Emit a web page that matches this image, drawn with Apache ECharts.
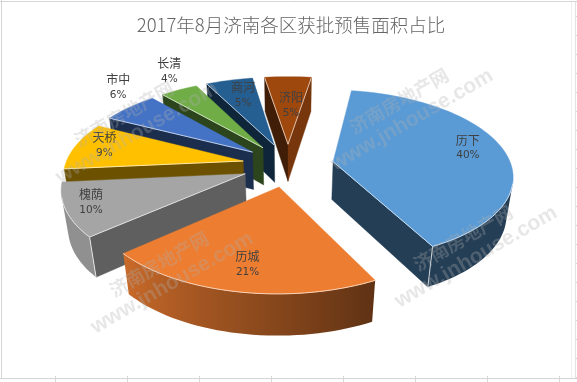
<!DOCTYPE html>
<html><head><meta charset="utf-8">
<style>html,body{margin:0;padding:0;background:#fff}#c{width:577px;height:382px}</style>
<script src="https://cdn.jsdelivr.net/npm/echarts@6/dist/echarts.min.js"></script>
</head><body><div id="c"></div>
<script>
const titleText = '2017年8月济南各区获批预售面积占比';
const categories = ['历下','历城','槐荫','天桥','市中','长清','商河','济阳'];
const values = [40,21,10,9,6,4,5,5];
const colors = ['#5b9bd5','#ed7d31','#a5a5a5','#ffc000','#4472c4','#70ad47','#255e91','#9e480e'];
// label placement on the disc: radial distance and angular nudge
const labelRho = [0.808,0.77,0.86,0.84,1.30,1.314,0.744,0.542];
const labelDelta = [-3.6,0,2.1,2.9,8,4.2,1.7,2];

// 3D view parameters
const firstAngle = 9, explode = 0.258;
const cx = 288, cy = 165, F = 178, FG = 83.5, P = 0.15, H = 39, Q = 0.03;
const rad = d => d * Math.PI / 180;
function project(X, Y, z) {
  const w = 1 - P * Y + Q * z;
  return [cx + F * X / w, cy + (FG * Y + H * z) / w];
}
function shade(hex, f) {
  const n = parseInt(hex.slice(1), 16);
  const c = [(n >> 16) & 255, (n >> 8) & 255, n & 255].map(v => Math.round(v * f));
  return 'rgb(' + c.join(',') + ')';
}
function tint(hex, f) {
  const n = parseInt(hex.slice(1), 16);
  const c = [(n >> 16) & 255, (n >> 8) & 255, n & 255].map(v => Math.round(v + (255 - v) * f));
  return 'rgb(' + c.join(',') + ')';
}
function area(p) {
  let s = 0;
  for (let i = 0; i < p.length; i++) {
    const a = p[i], b = p[(i + 1) % p.length];
    s += a[0] * b[1] - b[0] * a[1];
  }
  return s / 2;
}
function wallShade(n) {
  n = ((n % 360) + 360) % 360;
  if (n <= 153) return 0.4;
  if (n <= 228) return 0.4 + 0.45 * (n - 153) / 75;
  return 0.87;
}
function cutShade(n) {
  n = ((n % 360) + 360) % 360;
  if (n <= 99) return 0.75;
  if (n < 175) return 0.75 - 0.33 * (n - 99) / 76;
  return 0.4;
}
const total = values.reduce((a, b) => a + b, 0);
const starts = [];
values.reduce((acc, v, i) => { starts[i] = acc; return acc + v / total * 360; }, firstAngle);
const mids = values.map((v, i) => starts[i] + v / total * 180);
const depthOrder = values.map((v, i) => i).sort((a, b) => Math.cos(rad(mids[b])) - Math.cos(rad(mids[a])));

function renderSlice(params, api) {
  const i = api.value(0), v = api.value(1);
  const a0 = starts[i], sweep = v / total * 360, a1 = a0 + sweep, m = a0 + sweep / 2;
  const rank = depthOrder.indexOf(i) * 100;
  const color = colors[i];
  const rim = tint(color, 0.65);
  const ax = explode * Math.sin(rad(m)), ay = -explode * Math.cos(rad(m));
  const arc = [];
  const steps = Math.max(4, Math.ceil(sweep / 2));
  for (let k = 0; k <= steps; k++) {
    const t = a0 + sweep * k / steps;
    arc.push([ax + Math.sin(rad(t)), ay - Math.cos(rad(t)), t]);
  }
  const children = [];
  const poly = (pts, fill, z) => children.push({
    type: 'polygon', z2: rank + z, shape: { points: pts },
    style: { fill: fill, stroke: typeof fill === 'string' ? fill : null, lineWidth: typeof fill === 'string' ? 0.4 : 0 }
  });
  const segLine = (a, b, stroke, w, z) => children.push({
    type: 'line', z2: rank + z, shape: { x1: a[0], y1: a[1], x2: b[0], y2: b[1] },
    style: { stroke: stroke, lineWidth: w }
  });
  const T = p => project(p[0], p[1], 0), B = p => project(p[0], p[1], 1);
  const face = (A, Z) => [T(A), T(Z), B(Z), B(A)];
  const apex = [ax, ay];
  const startVis = area(face(apex, arc[0])) < 0;
  const endVis = area(face(arc[steps], apex)) < 0;
  if (startVis) { poly(face(apex, arc[0]), shade(color, cutShade(a0 - 90)), 1); segLine(T(apex), T(arc[0]), rim, 1, 6); }
  if (endVis) { poly(face(arc[steps], apex), shade(color, cutShade(a1 + 90)), 1); segLine(T(arc[steps]), T(apex), rim, 1, 6); }

  // curved outer wall: one polygon per visible run, with a gradient following the light
  let run = [];
  const flush = () => {
    if (run.length < 2) { run = []; return; }
    const topPts = run.map(T), botPts = run.map(B).reverse();
    const xs = run.map(p => T(p)[0]);
    const x0 = xs[0], x1 = xs[xs.length - 1];
    const stops = run.map((p, idx) => ({
      offset: Math.min(1, Math.max(0, (xs[idx] - x0) / ((x1 - x0) || 1))),
      color: shade(color, wallShade(p[2]))
    }));
    poly(topPts.concat(botPts), { type: 'linear', x: x0, y: 0, x2: x1, y2: 0, global: true, colorStops: stops }, 2);
    run = [];
  };
  let firstWall = false, lastWall = false;
  for (let k = 0; k < steps; k++) {
    if (area(face(arc[k], arc[k + 1])) < 0) {
      if (!run.length) run.push(arc[k]);
      run.push(arc[k + 1]);
      segLine(T(arc[k]), T(arc[k + 1]), rim, 1, 6);
      if (k === 0) firstWall = true;
      if (k === steps - 1) lastWall = true;
    } else flush();
  }
  flush();
  const edge = p => segLine(T(p), B(p), 'rgba(255,255,255,0.75)', 1, 3);
  if (startVis && firstWall) edge(arc[0]);
  if (endVis && lastWall) edge(arc[steps]);
  poly([T(apex)].concat(arc.map(T)), color, 4);
  // label
  const la = m + labelDelta[i], rho = labelRho[i];
  const lp = project(ax + rho * Math.sin(rad(la)), ay - rho * Math.cos(rad(la)), 0);
  children.push({
    type: 'text', z2: 5000,
    style: { x: lp[0], y: lp[1] - 7.5, text: categories[i], fill: '#404040', align: 'center', verticalAlign: 'middle',
      font: '12px "Noto Sans CJK SC"' }
  });
  children.push({
    type: 'text', z2: 5000,
    style: { x: lp[0], y: lp[1] + 8, text: Math.round(v / total * 100) + '%', fill: '#404040', align: 'center', verticalAlign: 'middle',
      font: '10.5px "DejaVu Sans"' }
  });
  return { type: 'group', children: children };
}

const lineCol = '#d6d6d6';
const frame = [];
const ln = (x1, y1, x2, y2, c) => frame.push({ type: 'line', z: 0, shape: { x1, y1, x2, y2 }, style: { stroke: c || lineCol, lineWidth: 1 } });
ln(1.5, 0, 1.5, 378); ln(0, 1.5, 577, 1.5); ln(0, 378.5, 577, 378.5);
ln(571.5, 2, 571.5, 378, '#f0f0f0'); ln(575.5, 2, 575.5, 378, '#e2e2e2');
for (let x = 55.5; x < 570; x += 72) ln(x, 376, x, 382);
for (let y = 16.5; y < 378; y += 19) ln(575.5, y, 577, y);

const wm = (x, y, text, size, font) => ({
  type: 'text', z: 200, x: x, y: y, rotation: rad(30),
  style: { text: text, fill: 'rgba(175,175,175,0.3)', font: 'bold ' + size + 'px ' + font, align: 'center', verticalAlign: 'middle' }
});
const marks = [[412,120],[476,257],[172,283],[137,133]];
const wmarks = [];
marks.forEach(p => {
  wmarks.push(wm(p[0], p[1], 'www.jnhouse.com', 21, '"Liberation Sans"'));
  wmarks.push(wm(p[0] - 13, p[1] - 19, '济南房地产网', 18.5, '"Noto Sans CJK SC"'));
});

const chart = echarts.init(document.getElementById('c'), null, { renderer: 'canvas' });
chart.setOption({
  animation: false,
  backgroundColor: '#fff',
  title: { text: titleText, left: 286, top: 11, textAlign: 'center',
    textStyle: { color: '#666666', fontSize: 18.5, fontWeight: 300, fontFamily: '"Noto Sans CJK SC"' } },
  graphic: { elements: frame.concat(wmarks) },
  series: [{
    type: 'custom', coordinateSystem: 'none', renderItem: renderSlice, z: 10,
    data: values.map((v, i) => [i, v])
  }]
});
</script></body></html>
